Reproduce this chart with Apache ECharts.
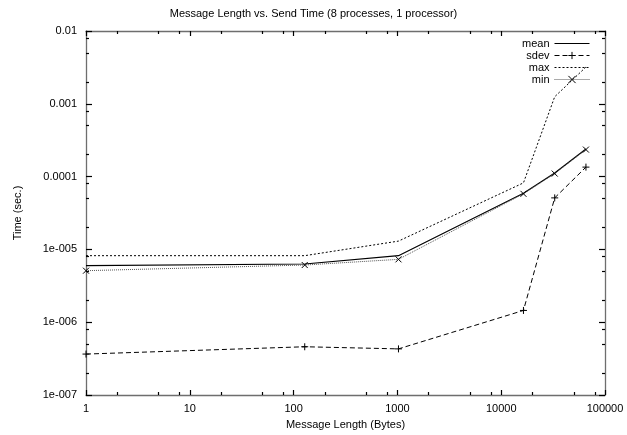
<!DOCTYPE html>
<html>
<head>
<meta charset="utf-8">
<script src="https://cdn.jsdelivr.net/npm/echarts@6/dist/echarts.min.js"></script>
<style>
html,body{margin:0;padding:0;background:#fff;}
#chart{width:627px;height:435px;}
</style>
</head>
<body>
<div id="chart"></div>
<script>
// ---- data ----
var messageLength = [1, 128, 1024, 16384, 32768, 65536];
var meanTime = [6.0e-6, 6.3e-6, 8.2e-6, 5.9e-5, 1.12e-4, 2.4e-4];
var sdevTime = [3.65e-7, 4.6e-7, 4.3e-7, 1.45e-6, 5.1e-5, 1.35e-4];
var maxTime  = [8.2e-6, 8.2e-6, 1.3e-5, 8.2e-5, 1.25e-3, 3.2e-3];
var minTime  = [5.1e-6, 6.1e-6, 7.3e-6, 5.8e-5, 1.1e-4, 2.35e-4];

var xTickValues = [1, 10, 100, 1000, 10000, 100000];
var xTickLabels = ['1', '10', '100', '1000', '10000', '100000'];
var yTickValues = [1e-7, 1e-6, 1e-5, 1e-4, 1e-3, 1e-2];
var yTickLabels = ['1e-007', '1e-006', '1e-005', '0.0001', '0.001', '0.01'];
var minorMultipliers = [2, 5, 8];

function minorValues(majors) {
  var out = [];
  for (var i = 0; i < majors.length - 1; i++) {
    for (var j = 0; j < minorMultipliers.length; j++) out.push(majors[i] * minorMultipliers[j]);
  }
  return out;
}
function pair(xs, ys) { return xs.map(function (x, i) { return [x, ys[i]]; }); }
function labelFor(values, labels) {
  return function (v) {
    for (var i = 0; i < values.length; i++) {
      if (Math.abs(Math.log10(v) - Math.log10(values[i])) < 1e-6) return labels[i];
    }
    return '';
  };
}

var FONT = 'Liberation Sans';
var frameLine = { show: true, lineStyle: { color: '#6e6e6e', width: 1.3 } };
var PLUS = 'path://M0,5L10,5M5,0L5,10';
var CROSS = 'path://M0,0L10,10M10,0L0,10';

function xAxisDef(pos, major, showLabels) {
  return {
    type: 'log', logBase: 10, min: 1, max: 100000, position: pos, gridIndex: 0,
    axisLine: major ? frameLine : { show: false },
    splitLine: { show: false },
    axisTick: { show: true, inside: true, length: major ? 5 : 3,
      customValues: major ? xTickValues : minorValues(xTickValues),
      lineStyle: { color: '#000', width: 1.2 } },
    axisLabel: { show: showLabels, customValues: xTickValues, formatter: labelFor(xTickValues, xTickLabels),
      color: '#000', fontFamily: FONT, fontSize: 11, margin: 8 },
    name: showLabels ? 'Message Length (Bytes)' : '',
    nameLocation: 'middle', nameGap: 24,
    nameTextStyle: { color: '#000', fontFamily: FONT, fontSize: 11 }
  };
}
function yAxisDef(pos, major, showLabels) {
  return {
    type: 'log', logBase: 10, min: 1e-7, max: 1e-2, position: pos, gridIndex: 0,
    axisLine: major ? frameLine : { show: false },
    splitLine: { show: false },
    axisTick: { show: true, inside: true, length: major ? 6 : 3,
      customValues: major ? yTickValues : minorValues(yTickValues),
      lineStyle: { color: '#000', width: 1.2 } },
    axisLabel: { show: showLabels, customValues: yTickValues, formatter: labelFor(yTickValues, yTickLabels),
      color: '#000', fontFamily: FONT, fontSize: 11, margin: 9 },
    name: showLabels ? 'Time (sec.)' : '',
    nameLocation: 'middle', nameGap: 63, nameRotate: 90,
    nameTextStyle: { color: '#000', fontFamily: FONT, fontSize: 11 }
  };
}

var hiddenSymbol = { color: 'rgba(0,0,0,0)', borderColor: 'rgba(0,0,0,0)', borderWidth: 0 };
var strokeSymbol = { color: 'rgba(0,0,0,0)', borderColor: '#000', borderWidth: 1 };
function legendDef(name, top, noSymbol) {
  var item = { name: name, itemStyle: noSymbol ? hiddenSymbol : strokeSymbol };
  return {
    data: [item], right: 37, top: top, orient: 'vertical', align: 'right',
    padding: 0, itemWidth: 35, itemHeight: 9, selectedMode: false,
    lineStyle: { width: 1 },
    textStyle: { color: '#000', fontFamily: FONT, fontSize: 11 }
  };
}

var chart = echarts.init(document.getElementById('chart'), null, { renderer: 'canvas' });
chart.setOption({
  backgroundColor: '#fff',
  animation: false,
  title: {
    text: 'Message Length vs. Send Time (8 processes, 1 processor)',
    left: 'center', top: 3,
    textStyle: { color: '#000', fontFamily: FONT, fontSize: 11, fontWeight: 'normal' }
  },
  legend: [legendDef('mean', 38, true), legendDef('sdev', 50, false),
           legendDef('max', 62, true), legendDef('min', 74, false)],
  grid: { left: 86, right: 22, top: 31, bottom: 40 },
  xAxis: [xAxisDef('bottom', true, true), xAxisDef('bottom', false, false),
          xAxisDef('top', true, false), xAxisDef('top', false, false)],
  yAxis: [yAxisDef('left', true, true), yAxisDef('left', false, false),
          yAxisDef('right', true, false), yAxisDef('right', false, false)],
  series: [
    { name: 'mean', type: 'line', data: pair(messageLength, meanTime), symbol: 'none',
      lineStyle: { color: '#000', width: 1.2, type: 'solid' }, itemStyle: { color: '#000' } },
    { name: 'sdev', type: 'line', data: pair(messageLength, sdevTime), symbol: PLUS, symbolSize: 7,
      lineStyle: { color: '#000', width: 1, type: [5, 3] },
      itemStyle: { color: 'rgba(0,0,0,0)', borderColor: '#000', borderWidth: 1 } },
    { name: 'max', type: 'line', data: pair(messageLength, maxTime), symbol: 'none',
      lineStyle: { color: '#000', width: 1, type: [2, 2] }, itemStyle: { color: '#000' } },
    { name: 'min', type: 'line', data: pair(messageLength, minTime), symbol: CROSS, symbolSize: 6,
      lineStyle: { color: '#555', width: 1, type: [1, 1] },
      itemStyle: { color: 'rgba(0,0,0,0)', borderColor: '#000', borderWidth: 1 } }
  ]
});
</script>
</body>
</html>
